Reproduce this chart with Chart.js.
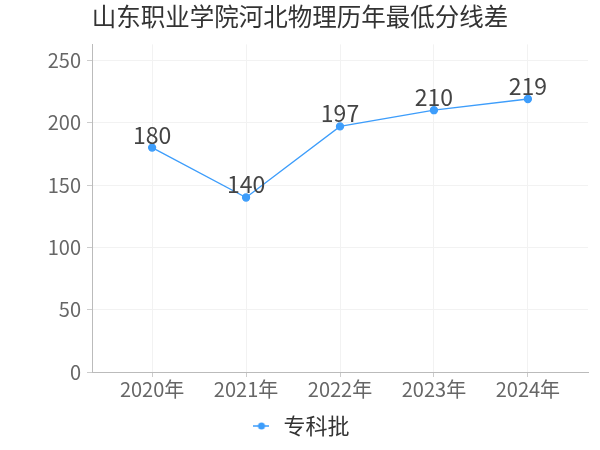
<!DOCTYPE html>
<html>
<head>
<meta charset="utf-8">
<script src="https://cdn.jsdelivr.net/npm/chart.js@4.4.1/dist/chart.umd.min.js"></script>
<style>
  html, body { margin: 0; padding: 0; background: #fff; }
</style>
</head>
<body>
<canvas id="chart" width="600" height="450"></canvas>
<script>
// 山东职业学院 河北 物理 历年最低分线差
var years = ["2020年", "2021年", "2022年", "2023年", "2024年"];
var scores = [180, 140, 197, 210, 219];
var yTicks = [0, 50, 100, 150, 200, 250];
var seriesName = "专科批";
var titleText = "山东职业学院河北物理历年最低分线差";

var blue = "#3d9dfb";
var fontFam = "'Noto Sans CJK SC', sans-serif";

// legend marker: short line with a dot
var marker = document.createElement("canvas");
marker.width = 16; marker.height = 10;
var mc = marker.getContext("2d");
mc.strokeStyle = blue; mc.lineWidth = 1.5;
mc.beginPath(); mc.moveTo(0, 5); mc.lineTo(16, 5); mc.stroke();
mc.fillStyle = blue;
mc.beginPath(); mc.arc(8, 5, 3.5, 0, Math.PI * 2); mc.fill();

// numbers above each point
var valueLabels = {
  id: "valueLabels",
  afterDatasetsDraw: function (chart) {
    var ctx = chart.ctx;
    var meta = chart.getDatasetMeta(0);
    ctx.save();
    ctx.font = "23px " + fontFam;
    ctx.fillStyle = "#444";
    ctx.textAlign = "center";
    ctx.textBaseline = "alphabetic";
    meta.data.forEach(function (pt, i) {
      ctx.fillText(String(scores[i]), pt.x, pt.y - 4);
    });
    ctx.restore();
  }
};

var points = scores.map(function (v, i) { return { x: i, y: v }; });

var chart = new Chart(document.getElementById("chart"), {
  type: "line",
  data: {
    datasets: [{
      label: seriesName,
      data: points,
      borderColor: blue,
      backgroundColor: blue,
      borderWidth: 1.3,
      pointStyle: "circle",
      pointRadius: 3.5,
      pointHoverRadius: 3.5,
      tension: 0
    }]
  },
  options: {
    responsive: false,
    animation: false,
    devicePixelRatio: 1,
    layout: { padding: { left: 0, right: 0, top: 0, bottom: 3 } },
    plugins: {
      title: {
        display: true,
        text: titleText,
        color: "#333",
        font: { size: 24.5, family: fontFam, weight: "normal" },
        padding: { top: 2, bottom: 13 }
      },
      legend: {
        position: "bottom",
        labels: {
          usePointStyle: true,
          color: "#333",
          font: { size: 22, family: fontFam },
          padding: 14,
          generateLabels: function (c) {
            return [{ text: seriesName, pointStyle: marker, fillStyle: blue, strokeStyle: blue, lineWidth: 0, fontColor: "#333", datasetIndex: 0 }];
          }
        }
      },
      tooltip: { enabled: false }
    },
    scales: {
      x: {
        type: "linear",
        min: -0.64,
        max: 4.64,
        afterBuildTicks: function (s) {
          s.ticks = years.map(function (_, i) { return { value: i }; });
        },
        ticks: {
          color: "#666",
          font: { size: 20, family: fontFam },
          padding: 0,
          callback: function (v) { return years[v]; }
        },
        grid: { color: "#f2f2f2", tickColor: "#ccc", tickLength: 5 },
        border: { color: "#bbb" }
      },
      y: {
        min: 0,
        max: 262.8,
        afterBuildTicks: function (s) {
          s.ticks = yTicks.map(function (v) { return { value: v }; });
        },
        afterFit: function (s) { s.width = 92; },
        ticks: {
          color: "#666",
          font: { size: 20, family: fontFam },
          padding: 6
        },
        grid: { color: "#f2f2f2", tickColor: "#ccc", tickLength: 5 },
        border: { color: "#bbb" }
      },
      // empty strip on the right so the title stays centred on the page
      spacer: {
        position: "right",
        min: 0,
        max: 1,
        afterFit: function (s) { s.width = 12; },
        ticks: { display: false },
        grid: { display: false },
        border: { display: false }
      }
    }
  },
  plugins: [valueLabels]
});
</script>
</body>
</html>
